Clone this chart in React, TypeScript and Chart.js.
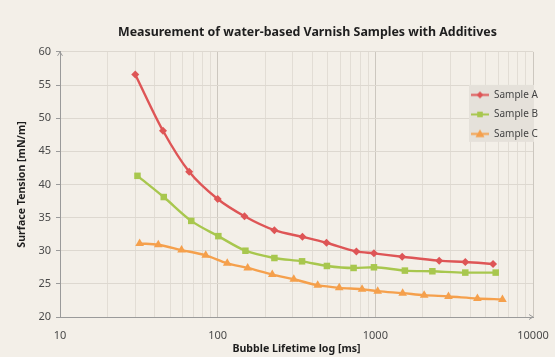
import React, { useEffect, useRef } from 'react';
import { Chart, registerables } from 'chart.js';

Chart.register(...registerables);

const chartTitle = 'Measurement of water-based Varnish Samples with Additives';
const xAxisTitle = 'Bubble Lifetime log [ms]';
const yAxisTitle = 'Surface Tension [mN/m]';

const seriesNames = ['Sample A', 'Sample B', 'Sample C'];

const sampleAX = [30, 45, 66, 100, 148, 229, 345, 490, 758, 980, 1480, 2540, 3720, 5580];
const sampleAY = [56.6, 48.1, 41.9, 37.8, 35.2, 33.1, 32.1, 31.2, 29.9, 29.6, 29.1, 28.5, 28.3, 28.0];

const sampleBX = [31, 45.5, 68, 101, 150, 229, 343, 493, 728, 980, 1540, 2300, 3720, 5800];
const sampleBY = [41.3, 38.1, 34.5, 32.2, 30.0, 28.9, 28.4, 27.7, 27.4, 27.5, 27.0, 26.9, 26.7, 26.7];

const sampleCX = [32, 42, 59, 84, 115, 155, 222, 304, 431, 590, 824, 1035, 1490, 2040, 2910, 4440, 6400];
const sampleCY = [31.1, 30.9, 30.1, 29.3, 28.1, 27.4, 26.4, 25.7, 24.8, 24.4, 24.2, 23.9, 23.6, 23.3, 23.1, 22.8, 22.65];

const xGridValues = [
  10, 20, 30, 40, 50, 60, 70, 80, 90,
  100, 200, 300, 400, 500, 600, 700, 800, 900,
  1000, 2000, 3000, 4000, 5000, 6000, 7000, 8000, 9000,
  10000,
];
const xTickLabels = [10, 100, 1000, 10000];

const yMin = 20;
const yMax = 60;
const yStep = 5;

const colors = ['#DE5556', '#A8C74E', '#F5A04C'];
const pointStyles = ['rectRot', 'rect', 'triangle'];
const pointRadii = [4, 4.6, 5];

function toPoints(xs: number[], ys: number[]) {
  return xs.map((x, i) => ({ x, y: ys[i] }));
}

function makeSwatch(color: string, style: string, r: number): HTMLCanvasElement {
  const c = document.createElement('canvas');
  c.width = 18;
  c.height = 11;
  const g = c.getContext('2d')!;
  g.strokeStyle = color;
  g.fillStyle = color;
  g.lineWidth = 2;
  g.beginPath();
  g.moveTo(0, 5.5);
  g.lineTo(18, 5.5);
  g.stroke();
  const cx = 9, cy = 5.5;
  g.beginPath();
  if (style === 'rectRot') {
    g.moveTo(cx, cy - r); g.lineTo(cx + r, cy); g.lineTo(cx, cy + r); g.lineTo(cx - r, cy);
  } else if (style === 'rect') {
    g.rect(cx - r * 0.8, cy - r * 0.8, r * 1.6, r * 1.6);
  } else {
    g.moveTo(cx, cy - r); g.lineTo(cx + r, cy + r * 0.7); g.lineTo(cx - r, cy + r * 0.7);
  }
  g.closePath();
  g.fill();
  return c;
}

export default function App() {
  const ref = useRef<HTMLCanvasElement>(null);

  useEffect(() => {
    const canvas = ref.current;
    if (!canvas) return;

    const swatches = colors.map((c, i) => makeSwatch(c, pointStyles[i], [3.5, 3.5, 4.5][i]));

    const placer = {
      id: 'placer',
      afterInit(chart: any) {
        const lg = chart.legend;
        if (lg) {
          const orig = lg.draw.bind(lg);
          lg.draw = (...args: any[]) => {
            const area = chart.chartArea;
            const ctx = chart.ctx;
            const boxRight = area.right + 1;
            const boxLeft = boxRight - 65;
            const boxTop = area.top + 33;
            ctx.save();
            ctx.fillStyle = '#E5E1DA';
            ctx.fillRect(boxLeft, boxTop, 65, 57);
            ctx.restore();
            lg.left = boxLeft - 7.5;
            lg.right = boxRight + 20;
            lg.width = lg.right - lg.left;
            lg.top = boxTop - 4.5;
            lg.bottom = boxTop + 120;
            lg.height = 124;
            orig(...args);
          };
        }
        const tb = chart.titleBlock;
        if (tb) {
          const origT = tb.draw.bind(tb);
          tb.draw = (...args: any[]) => {
            const area = chart.chartArea;
            tb.left = area.left + 58;
            tb.right = area.right - 36;
            tb.width = tb.right - tb.left;
            origT(...args);
          };
        }
      },
    };

    const arrows = {
      id: 'arrows',
      afterDraw(chart: any) {
        const { ctx, chartArea: a } = chart;
        ctx.save();
        ctx.strokeStyle = '#9A9A9A';
        ctx.lineWidth = 1;
        ctx.beginPath();
        ctx.moveTo(a.left - 2.5, a.top + 4);
        ctx.lineTo(a.left, a.top);
        ctx.lineTo(a.left + 2.5, a.top + 4);
        ctx.moveTo(a.right - 4, a.bottom - 2.5);
        ctx.lineTo(a.right, a.bottom);
        ctx.lineTo(a.right - 4, a.bottom + 2.5);
        ctx.stroke();
        ctx.restore();
      },
    };

    const seriesX = [sampleAX, sampleBX, sampleCX];
    const seriesY = [sampleAY, sampleBY, sampleCY];

    const chart = new Chart(canvas, {
      type: 'line',
      data: {
        datasets: seriesNames.map((name, i) => ({
          label: name,
          data: toPoints(seriesX[i], seriesY[i]),
          borderColor: colors[i],
          backgroundColor: colors[i],
          borderWidth: 2.4,
          pointStyle: pointStyles[i] as any,
          pointRadius: pointRadii[i],
          pointBorderWidth: 0,
          cubicInterpolationMode: 'monotone' as const,
          fill: false,
        })),
      },
      options: {
        animation: false,
        responsive: true,
        maintainAspectRatio: false,
        layout: { padding: { left: 0, right: 22, top: 0, bottom: 0 } },
        plugins: {
          title: {
            display: true,
            text: chartTitle,
            color: '#1E1E1E',
            font: { family: '"Noto Sans", sans-serif', size: 12.4, weight: 'bold', lineHeight: 1.2 },
            padding: { top: 25.5, bottom: 11.5 },
            align: 'center',
          },
          legend: {
            display: true,
            position: 'chartArea' as any,
            align: 'start',
            labels: {
              usePointStyle: true,
              pointStyleWidth: 18,
              boxHeight: 10,
              padding: 9.5,
              color: '#444444',
              font: { family: '"Noto Sans", sans-serif', size: 10 },
              generateLabels: (chart: any) => {
                const items = Chart.defaults.plugins.legend.labels.generateLabels(chart);
                return items.map((it: any, i: number) => ({ ...it, pointStyle: swatches[i], lineWidth: 0 }));
              },
            },
          },
          tooltip: { enabled: false },
        },
        scales: {
          x: {
            type: 'logarithmic',
            min: 10,
            max: 10000,
            afterBuildTicks: (scale: any) => {
              scale.ticks = xGridValues.map((v) => ({ value: v, major: xTickLabels.includes(v) }));
            },
            afterFit: (scale: any) => {
              scale.height = 40;
              scale.paddingRight = 0;
              scale.paddingLeft = 0;
            },
            ticks: {
              autoSkip: false,
              maxRotation: 0,
              padding: 12,
              color: '#4A4A4A',
              font: { family: '"Noto Sans", sans-serif', size: 11 },
              callback: (value: any) => (xTickLabels.includes(Number(value)) ? String(value) : ''),
            },
            grid: {
              drawTicks: false,
              color: (ctx: any) => {
                const v = ctx.tick ? ctx.tick.value : 0;
                return xTickLabels.includes(v) ? '#CCC7BF' : '#E2DDD5';
              },
              lineWidth: 1,
            },
            border: { display: true, color: '#9A9A9A', width: 1 },
            title: {
              display: true,
              text: xAxisTitle,
              color: '#1E1E1E',
              font: { family: '"Noto Sans", sans-serif', size: 10.6, weight: 'bold', lineHeight: 1.2 },
              padding: { top: 0, bottom: 2 },
            },
          },
          y: {
            type: 'linear',
            min: yMin,
            max: yMax,
            afterFit: (scale: any) => {
              scale.width = 60;
            },
            ticks: {
              stepSize: yStep,
              padding: 5,
              color: '#4A4A4A',
              font: { family: '"Noto Sans", sans-serif', size: 11 },
            },
            grid: {
              color: '#DDD8D0',
              tickColor: '#9A9A9A',
              tickLength: 4,
              lineWidth: 1,
            },
            border: { display: true, color: '#9A9A9A', width: 1 },
            title: {
              display: true,
              text: yAxisTitle,
              color: '#1E1E1E',
              font: { family: '"Noto Sans", sans-serif', size: 10.6, weight: 'bold', lineHeight: 1.2 },
              padding: { top: 16, bottom: 0 },
            },
          },
        },
      },
      plugins: [placer, arrows],
    });

    return () => chart.destroy();
  }, []);

  return (
    <div
      style={{
        position: 'absolute',
        left: 0,
        top: 0,
        width: 555,
        height: 357,
        background: '#F3EFE8',
      }}
    >
      <canvas ref={ref} />
    </div>
  );
}
